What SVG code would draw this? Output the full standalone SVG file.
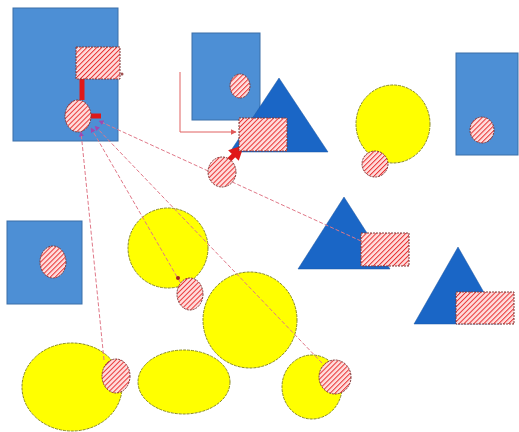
<svg xmlns="http://www.w3.org/2000/svg" width="519" height="432" viewBox="0 0 519 432">
<defs>
<pattern id="hatch" width="3.5" height="3.5" patternUnits="userSpaceOnUse" patternTransform="rotate(45)">
<rect width="3.5" height="3.5" fill="#ffdede"/>
<line x1="0" y1="0" x2="0" y2="3.5" stroke="#e83030" stroke-width="2"/>
</pattern>
<marker id="ah" viewBox="0 0 10 10" refX="9" refY="5" markerWidth="5" markerHeight="5" orient="auto">
<path d="M0,0 L10,5 L0,10 z" fill="#a048b0"/>
</marker>
<marker id="ahr" viewBox="0 0 10 10" refX="9" refY="5" markerWidth="3" markerHeight="3" orient="auto">
<path d="M0,0 L10,5 L0,10 z" fill="#e01818"/>
</marker>
<marker id="ahl" viewBox="0 0 10 10" refX="9" refY="5" markerWidth="6" markerHeight="6" orient="auto">
<path d="M0,0 L10,5 L0,10 z" fill="#e05858"/>
</marker>
</defs>
<style>
.blue{fill:#4d8fd5;stroke:#3a6ea8;stroke-width:1}
.tri{fill:#1a66c6;stroke:#1a55a0;stroke-width:0.5}
.yel{fill:#ffff00;stroke:#8a8a20;stroke-width:1;stroke-dasharray:3 1}
.hat{fill:url(#hatch);stroke:#803838;stroke-width:1;stroke-dasharray:2 1}
.dash{fill:none;stroke:#e07888;stroke-width:1;stroke-dasharray:4 2}
.thick{fill:none;stroke:#e01818;stroke-width:5}
.thin{fill:none;stroke:#e06060;stroke-width:1}
</style>
<g id="box1"><rect class="blue" x="13" y="8" width="105" height="133"/></g>
<g id="box2"><rect class="blue" x="192" y="33" width="68" height="87"/></g>
<g id="box3"><rect class="blue" x="456" y="53" width="62" height="102"/></g>
<g id="box4"><rect class="blue" x="7" y="221" width="75" height="83"/></g>
<g id="tri1"><polygon class="tri" points="230,152 279,78 328,152"/></g>
<g id="tri2"><polygon class="tri" points="298,269 344,197 390,269"/></g>
<g id="tri3"><polygon class="tri" points="414,324 458,247 502,324"/></g>
<g id="yc1"><ellipse class="yel" cx="393" cy="124" rx="37" ry="39"/></g>
<g id="yc2"><ellipse class="yel" cx="168" cy="248" rx="40" ry="40"/></g>
<g id="yc3"><ellipse class="yel" cx="250" cy="320" rx="47" ry="48"/></g>
<g id="yc4"><ellipse class="yel" cx="184" cy="382" rx="46" ry="32"/></g>
<g id="yc5"><ellipse class="yel" cx="312" cy="387" rx="30" ry="32"/></g>
<g id="yc6"><ellipse class="yel" cx="72" cy="387" rx="50" ry="44"/></g>
<g id="connectors">
<line class="dash" x1="361" y1="241" x2="99" y2="121" marker-end="url(#ah)"/>
<line class="dash" x1="180" y1="282" x2="91" y2="128" marker-end="url(#ah)"/>
<line class="dash" x1="322" y1="363" x2="95" y2="126" marker-end="url(#ah)"/>
<line class="dash" x1="104" y1="360" x2="81" y2="132" marker-end="url(#ah)"/>
<polyline class="thin" points="180,72 180,132 236,132" marker-end="url(#ahl)"/>
<line class="thick" x1="82" y1="79" x2="82" y2="100"/>
<line class="thick" x1="91" y1="116" x2="101" y2="116"/>
<line class="thick" x1="228" y1="161" x2="243" y2="146" marker-end="url(#ahr)"/>
<circle cx="178" cy="278" r="2" fill="#a02020"/>
<circle cx="122" cy="74" r="1.5" fill="#a05050"/>
</g>
<g id="h1"><rect class="hat" x="76" y="47" width="44" height="32"/></g>
<g id="h2"><ellipse class="hat" cx="78" cy="116" rx="13" ry="16"/></g>
<g id="h3"><ellipse class="hat" cx="240" cy="86" rx="10" ry="12"/></g>
<g id="h4"><rect class="hat" x="239" y="118" width="48" height="33"/></g>
<g id="h5"><ellipse class="hat" cx="222" cy="172" rx="14" ry="15"/></g>
<g id="h6"><ellipse class="hat" cx="375" cy="164" rx="13" ry="13"/></g>
<g id="h7"><ellipse class="hat" cx="482" cy="130" rx="12" ry="13"/></g>
<g id="h8"><ellipse class="hat" cx="53" cy="262" rx="13" ry="16"/></g>
<g id="h9"><ellipse class="hat" cx="190" cy="294" rx="13" ry="16"/></g>
<g id="h10"><rect class="hat" x="361" y="233" width="48" height="33"/></g>
<g id="h11"><rect class="hat" x="456" y="292" width="58" height="32"/></g>
<g id="h12"><ellipse class="hat" cx="116" cy="376" rx="14" ry="17"/></g>
<g id="h13"><ellipse class="hat" cx="335" cy="377" rx="16" ry="17"/></g>
</svg>
